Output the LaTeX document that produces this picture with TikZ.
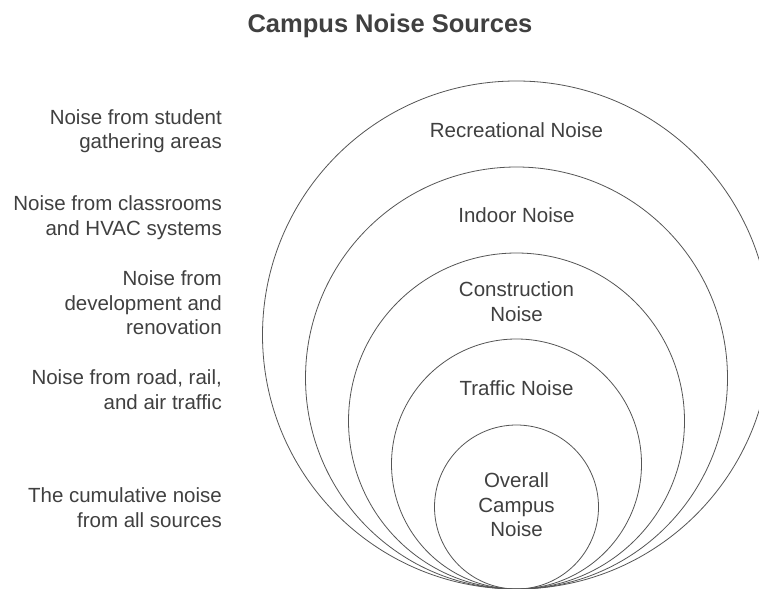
\documentclass[tikz,border=0pt]{standalone}
\usepackage{fontspec}
\setmainfont{Liberation Sans}
\definecolor{txt}{HTML}{404040}
\definecolor{ring}{HTML}{555555}
\newcommand{\lblfont}{\fontsize{20.5}{24.6}\selectfont}
\newcommand{\ttlfont}{\fontsize{25.5}{30}\selectfont\bfseries}
\begin{document}
\begin{tikzpicture}[x=1pt,y=-1pt,
  ringnode/.style={draw=ring, line width=0.8pt, circle, inner sep=0pt},
  inlabel/.style={font=\lblfont, text=txt, inner sep=0pt, align=center},
  sidelabel/.style={font=\lblfont, text=txt, inner sep=0pt, align=right, anchor=east},
  titlelabel/.style={font=\ttlfont, text=txt, inner sep=0pt, anchor=base}]
\useasboundingbox (0,0) rectangle (759,588);
\fill[white] (0,0) rectangle (759,588);
\clip (0,0) rectangle (759,588);
% rings, all tangent at the bottom
\node[ringnode, minimum size=508pt] (r1) at (516.5,335) {};
\node[ringnode, minimum size=422pt] (r2) at (516.5,378) {};
\node[ringnode, minimum size=336pt] (r3) at (516.5,421) {};
\node[ringnode, minimum size=250pt] (r4) at (516.5,464) {};
\node[ringnode, minimum size=164pt] (r5) at (516.5,507) {};
% title
\node[titlelabel] (title) at (390,33) {Campus Noise Sources};
% labels inside rings
\node[inlabel] (t1) at (516.5,132.1) {\strut Recreational Noise\strut};
\node[inlabel] (t2) at (516.5,217.1) {\strut Indoor Noise\strut};
\node[inlabel] (t3) at (516.5,304.1) {\strut Construction\\Noise\strut};
\node[inlabel] (t4) at (516.5,390.1) {\strut Traffic Noise\strut};
\node[inlabel] (t5) at (516.5,507.1) {\strut Overall\\Campus\\Noise\strut};
% descriptions on the left
\node[sidelabel] (d1) at (222,131.6) {\strut Noise from student\\gathering areas\strut};
\node[sidelabel] (d2) at (222,218.1) {\strut Noise from classrooms\\and HVAC systems\strut};
\node[sidelabel] (d3) at (222,305.1) {\strut Noise from\\development and\\renovation\strut};
\node[sidelabel] (d4) at (222,392.1) {\strut Noise from road, rail,\\and air traffic\strut};
\node[sidelabel] (d5) at (222,510.1) {\strut The cumulative noise\\from all sources\strut};
\end{tikzpicture}
\end{document}
